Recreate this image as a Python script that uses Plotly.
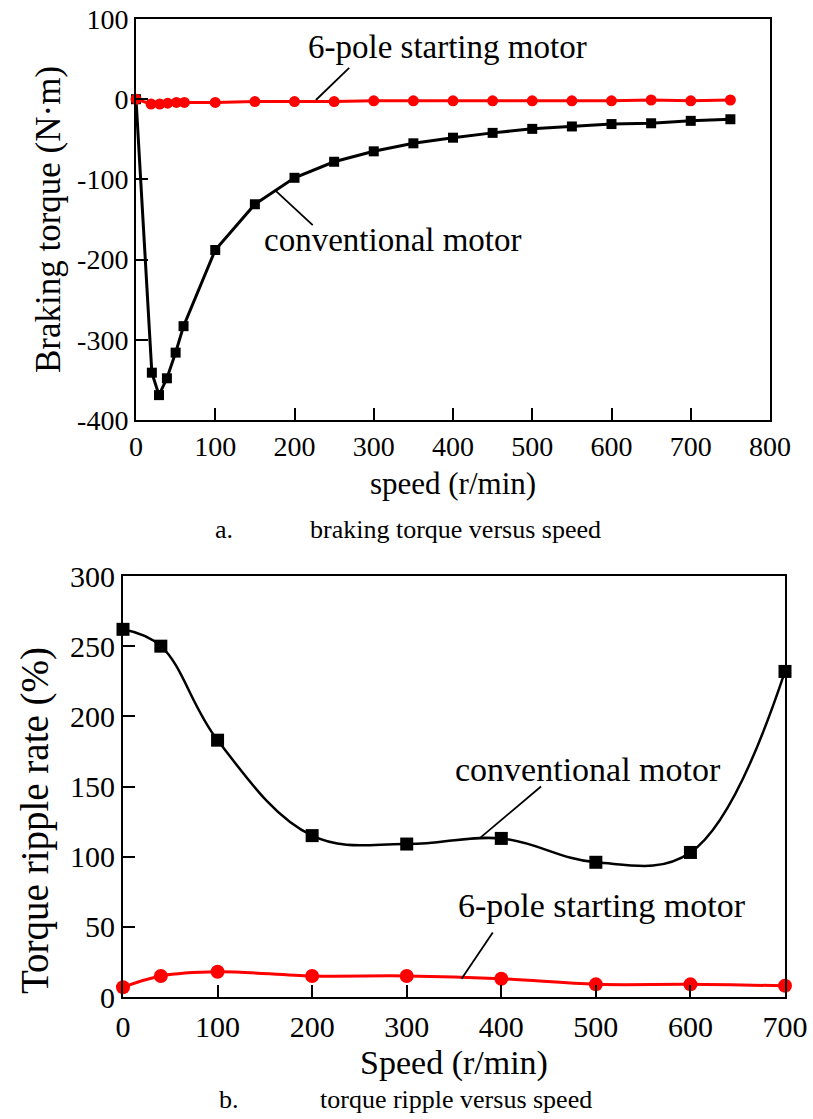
import plotly.graph_objects as go

# ---- panel a: braking torque vs speed ----
conv_speed_a = [0, 20, 29, 39, 50, 60, 100, 150, 200, 250, 300, 350, 400, 450, 500, 550, 600, 650, 700, 750]
conv_torque_a = [0, -341, -369, -348, -316, -283, -188, -131, -98, -78, -65, -55, -48, -42, -37, -34, -31, -30, -27, -25]
pole_speed_a = [0, 19, 30, 40, 51, 61, 100, 150, 200, 250, 300, 350, 400, 450, 500, 550, 600, 650, 700, 750]
pole_torque_a = [0, -6, -6, -5, -4, -4, -4, -3, -3, -3, -2, -2, -2, -2, -2, -2, -2, -1, -2, -1]

# ---- panel b: torque ripple vs speed ----
conv_speed_b = [0, 40, 100, 200, 300, 400, 500, 600, 700]
conv_ripple_b = [262, 250, 183, 115, 109, 113, 96, 103, 232]
pole_speed_b = [0, 40, 100, 200, 300, 400, 500, 600, 700]
pole_ripple_b = [7, 15, 18, 15, 15, 13, 9, 9, 8]

xticks_a = [0, 100, 200, 300, 400, 500, 600, 700, 800]
yticks_a = [100, 0, -100, -200, -300, -400]
ytick_text_a = ["100", "0", "-100", "-200", "-300", "-400"]
xticks_b = [0, 100, 200, 300, 400, 500, 600, 700]
yticks_b = [0, 50, 100, 150, 200, 250, 300]

FONT = "Liberation Serif, Times New Roman, DejaVu Serif, serif"
W, H = 813, 1119


def f(size):
    return dict(family=FONT, size=size, color="black")


fig = go.Figure()

fig.add_trace(go.Scatter(x=conv_speed_a, y=conv_torque_a, mode="lines+markers",
                         line=dict(color="black", width=3),
                         marker=dict(symbol="square", size=10, color="black"),
                         xaxis="x", yaxis="y", showlegend=False, cliponaxis=False))
fig.add_trace(go.Scatter(x=pole_speed_a, y=pole_torque_a, mode="lines+markers",
                         line=dict(color="#ff0000", width=3),
                         marker=dict(symbol="circle", size=11, color="#ff0000"),
                         xaxis="x", yaxis="y", showlegend=False, cliponaxis=False))
fig.add_trace(go.Scatter(x=conv_speed_b, y=conv_ripple_b, mode="lines+markers",
                         line=dict(color="black", width=2.5, shape="spline", smoothing=1.1),
                         marker=dict(symbol="square", size=13, color="black"),
                         xaxis="x2", yaxis="y2", showlegend=False, cliponaxis=False))
fig.add_trace(go.Scatter(x=pole_speed_b, y=pole_ripple_b, mode="lines+markers",
                         line=dict(color="#ff0000", width=3, shape="spline", smoothing=1.0),
                         marker=dict(symbol="circle", size=14, color="#ff0000"),
                         xaxis="x2", yaxis="y2", showlegend=False, cliponaxis=False))

axis_common = dict(showline=True, linecolor="black", linewidth=2, mirror=True,
                   ticks="inside", ticklen=12, tickwidth=1.5, tickcolor="black",
                   showgrid=False, zeroline=False, automargin=False)

fig.update_layout(
    width=W, height=H, margin=dict(l=0, r=0, t=0, b=0, autoexpand=False),
    paper_bgcolor="white", plot_bgcolor="white",
    font=f(20),
    xaxis=dict(domain=[136 / W, 770 / W], range=[0, 800], tickvals=xticks_a,
               tickfont=f(28), ticklabelstandoff=0,
               title=dict(text="speed (r/min)", font=f(31), standoff=12),
               anchor="y", **axis_common),
    yaxis=dict(domain=[1 - 420 / H, 1 - 19 / H], range=[-400, 100], tickvals=yticks_a,
               ticktext=ytick_text_a, tickfont=f(28),
               title=dict(text="Braking torque (N·m)", font=f(35), standoff=6),
               anchor="x", **axis_common),
    xaxis2=dict(domain=[123 / W, 785 / W], range=[0, 700], tickvals=xticks_b,
                tickfont=f(30), ticklabelstandoff=2,
                title=dict(text="Speed (r/min)", font=f(34), standoff=8),
                anchor="y2", **axis_common),
    yaxis2=dict(domain=[1 - 997 / H, 1 - 576 / H], range=[0, 300], tickvals=yticks_b,
                tickfont=f(30),
                anchor="x2", **axis_common),
)

# y title of panel b (sits lower than the axis centre in the original)
fig.add_annotation(x=35 / W, y=1 - 821 / H, xref="paper", yref="paper",
                   text="Torque ripple rate (%)", textangle=-90, showarrow=False,
                   xanchor="center", yanchor="middle", font=f(39))

# curve labels
fig.add_annotation(x=393, y=65, xref="x", yref="y", text="6-pole starting motor",
                   showarrow=False, font=f(33))
fig.add_annotation(x=324, y=-175, xref="x", yref="y", text="conventional motor",
                   showarrow=False, font=f(33))
fig.add_annotation(x=492, y=162, xref="x2", yref="y2", text="conventional motor",
                   showarrow=False, font=f(34))
fig.add_annotation(x=506, y=65, xref="x2", yref="y2", text="6-pole starting motor",
                   showarrow=False, font=f(34))

# leader lines
lead = dict(type="line", line=dict(color="black", width=1.8))
fig.add_shape(x0=269, y0=39, x1=227, y1=-1, xref="x", yref="y", **lead)
fig.add_shape(x0=223, y0=-157, x1=175, y1=-113, xref="x", yref="y", **lead)
fig.add_shape(x0=442, y0=150, x1=377, y1=113, xref="x2", yref="y2", **lead)
fig.add_shape(x0=391, y0=46, x1=358, y1=13, xref="x2", yref="y2", **lead)

# captions
cap = dict(xref="paper", yref="paper", showarrow=False, yanchor="middle",
           font=f(26))
fig.add_annotation(x=213 / W, y=1 - 529 / H, text="a.", **cap)
fig.add_annotation(x=455 / W, y=1 - 529 / H, text="braking torque versus speed", **cap)
fig.add_annotation(x=217 / W, y=1 - 1099 / H, text="b.", **cap)
fig.add_annotation(x=456 / W, y=1 - 1099 / H, text="torque ripple versus speed", **cap)

fig.write_html("out.html")
